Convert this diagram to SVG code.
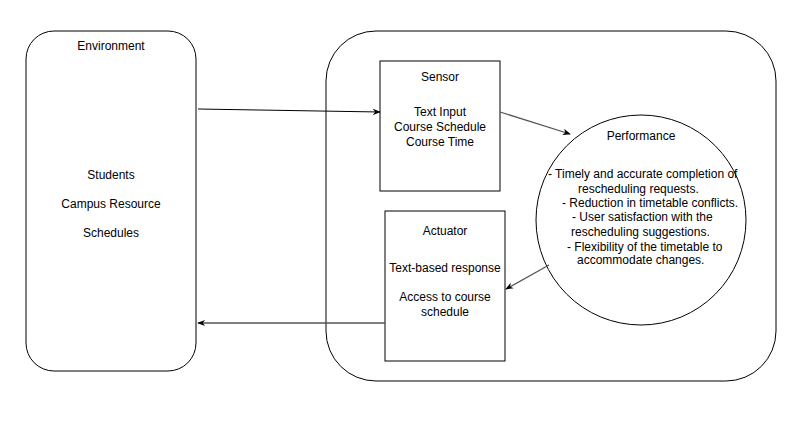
<svg xmlns="http://www.w3.org/2000/svg" width="792" height="423" viewBox="0 0 792 423">
<style>
.s{fill:#fff;stroke:#000;stroke-width:1}
text{font-family:"Liberation Sans",Arial,sans-serif;font-size:12px;fill:#000}
.c{text-anchor:middle}
.e{fill:none;stroke:#000;stroke-width:1}
.g{fill:none;stroke:#555;stroke-width:1.3}
</style>
<defs>
<marker id="ah" viewBox="0 0 10 10" refX="9" refY="5" markerWidth="8" markerHeight="8" orient="auto" markerUnits="userSpaceOnUse">
<path d="M0,1 L10,5 L0,9 L3,5 Z" fill="#000"/>
</marker>
</defs>
<rect width="792" height="423" fill="#fff"/>
<g id="environment">
<rect class="s" x="26" y="31" width="170" height="340" rx="28" ry="28"/>
<text class="c" x="111" y="50">Environment</text>
<text class="c" x="111" y="179">Students</text>
<text class="c" x="111" y="208">Campus Resource</text>
<text class="c" x="111" y="237">Schedules</text>
</g>
<g id="agent">
<rect class="s" x="326" y="31" width="450" height="350" rx="50" ry="50"/>
</g>
<g id="sensor">
<rect class="s" x="380" y="61" width="120" height="130"/>
<text class="c" x="440" y="81">Sensor</text>
<text class="c" x="440" y="116">Text Input</text>
<text class="c" x="440" y="131">Course Schedule</text>
<text class="c" x="440" y="146">Course Time</text>
</g>
<g id="actuator">
<rect class="s" x="385" y="211" width="120" height="150"/>
<text class="c" x="445" y="235">Actuator</text>
<text class="c" x="445" y="272">Text-based response</text>
<text class="c" x="445" y="301">Access to course</text>
<text class="c" x="445" y="316">schedule</text>
</g>
<g id="performance">
<circle class="s" cx="641" cy="220" r="105"/>
<text class="c" x="641" y="140">Performance</text>
<text x="548" y="178">- Timely and accurate completion of</text>
<text x="578" y="193">rescheduling requests.</text>
<text x="562" y="207">- Reduction in timetable conflicts.</text>
<text x="572" y="221">- User satisfaction with the</text>
<text x="571" y="236">rescheduling suggestions.</text>
<text x="567" y="251">- Flexibility of the timetable to</text>
<text x="577" y="264">accommodate changes.</text>
</g>
<g id="connectors">
<path class="e" d="M198,109 L380,112" marker-end="url(#ah)"/>
<path class="g" d="M500,112 L570,134" marker-end="url(#ah)"/>
<path class="g" d="M549,265 L506,289" marker-end="url(#ah)"/>
<path class="g" d="M385,323 L198,323" marker-end="url(#ah)"/>
</g>
</svg>
